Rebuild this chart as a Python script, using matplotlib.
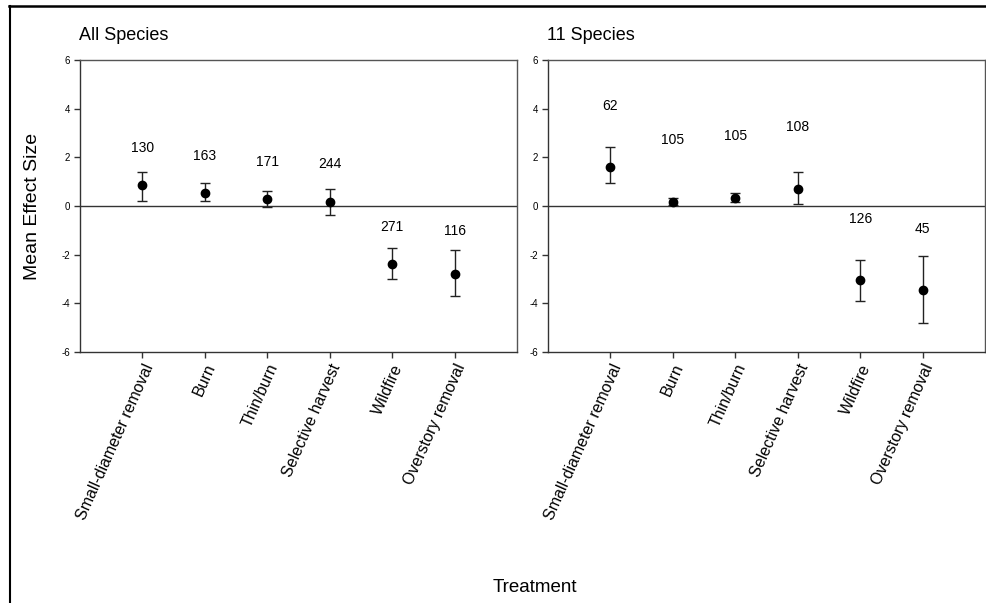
import numpy as np
import matplotlib
matplotlib.use("Agg")
import matplotlib.pyplot as plt
from matplotlib.lines import Line2D

plt.rcParams['font.family'] = ['Liberation Sans', 'DejaVu Sans']

# treatments (same order in both panels)
treatments = ['Small-diameter removal', 'Burn', 'Thin/burn',
              'Selective harvest', 'Wildfire', 'Overstory removal']

# All Species panel
all_mean = [0.86, 0.55, 0.30, 0.16, -2.38, -2.81]
all_lo = [0.20, 0.20, -0.04, -0.36, -3.00, -3.71]
all_hi = [1.38, 0.96, 0.63, 0.71, -1.73, -1.80]
all_n = ['130', '163', '171', '244', '271', '116']
all_n_y = [2.40, 2.07, 1.79, 1.71, -0.85, -1.03]

# 11 Species panel
sp11_mean = [1.60, 0.16, 0.33, 0.71, -3.04, -3.45]
sp11_lo = [0.96, 0.04, 0.16, 0.08, -3.92, -4.79]
sp11_hi = [2.41, 0.34, 0.55, 1.40, -2.23, -2.04]
sp11_n = ['62', '105', '105', '108', '126', '45']
sp11_n_y = [4.11, 2.71, 2.88, 3.23, -0.52, -0.93]

yticks = [-6, -4, -2, 0, 2, 4, 6]

W, H = 987, 603
fig = plt.figure(figsize=(W / 100, H / 100), dpi=100)

# outer frame (left and top edges visible)
fig.add_artist(Line2D([9.5 / W, 9.5 / W], [0, 1 - 6 / H], color='black', lw=1.5))
fig.add_artist(Line2D([9 / W, 1], [1 - 6 / H, 1 - 6 / H], color='black', lw=1.8))

panels = [
    ('All Species', all_mean, all_lo, all_hi, all_n, all_n_y, 80),
    ('11 Species', sp11_mean, sp11_lo, sp11_hi, sp11_n, sp11_n_y, 548),
]

x = np.arange(1, len(treatments) + 1)
for title, mean, lo, hi, ns, ny, left_px in panels:
    ax = fig.add_axes([left_px / W, 1 - 352 / H, 437 / W, 292 / H])
    mean = np.array(mean)
    yerr = [mean - np.array(lo), np.array(hi) - mean]
    ax.axhline(0, color='#333333', lw=1, zorder=1)
    ax.errorbar(x, mean, yerr=yerr, fmt='o', color='black', ecolor='#222222',
                elinewidth=1, capsize=3.5, capthick=1, markersize=6, zorder=3)
    for xi, label, yl in zip(x, ns, ny):
        ax.text(xi, yl, label, ha='center', va='center', fontsize=10)
    ax.set_xlim(0, 7)
    ax.set_ylim(-6, 6)
    ax.set_yticks(yticks)
    ax.set_yticklabels([str(t) for t in yticks], fontsize=7)
    ax.set_xticks(x)
    ax.set_xticklabels(treatments, rotation=66, ha='right', va='top',
                       rotation_mode='anchor', fontsize=11.5)
    ax.tick_params(axis='both', direction='out', length=4, width=1,
                   color='#333333', pad=3)
    for s in ax.spines.values():
        s.set_color('#555555')
        s.set_linewidth(1)
    ax.spines['left'].set_color('#333333')
    ax.spines['bottom'].set_color('#333333')
    fig.text((left_px - 1) / W, 1 - 36 / H, title, ha='left', va='center', fontsize=13)

fig.text(33 / W, 1 - 206 / H, 'Mean Effect Size', rotation=90, ha='center',
         va='center', fontsize=14)
fig.text(535 / W, 1 - 587 / H, 'Treatment', ha='center', va='center', fontsize=13.5)

fig.savefig('out.png', dpi=100)
